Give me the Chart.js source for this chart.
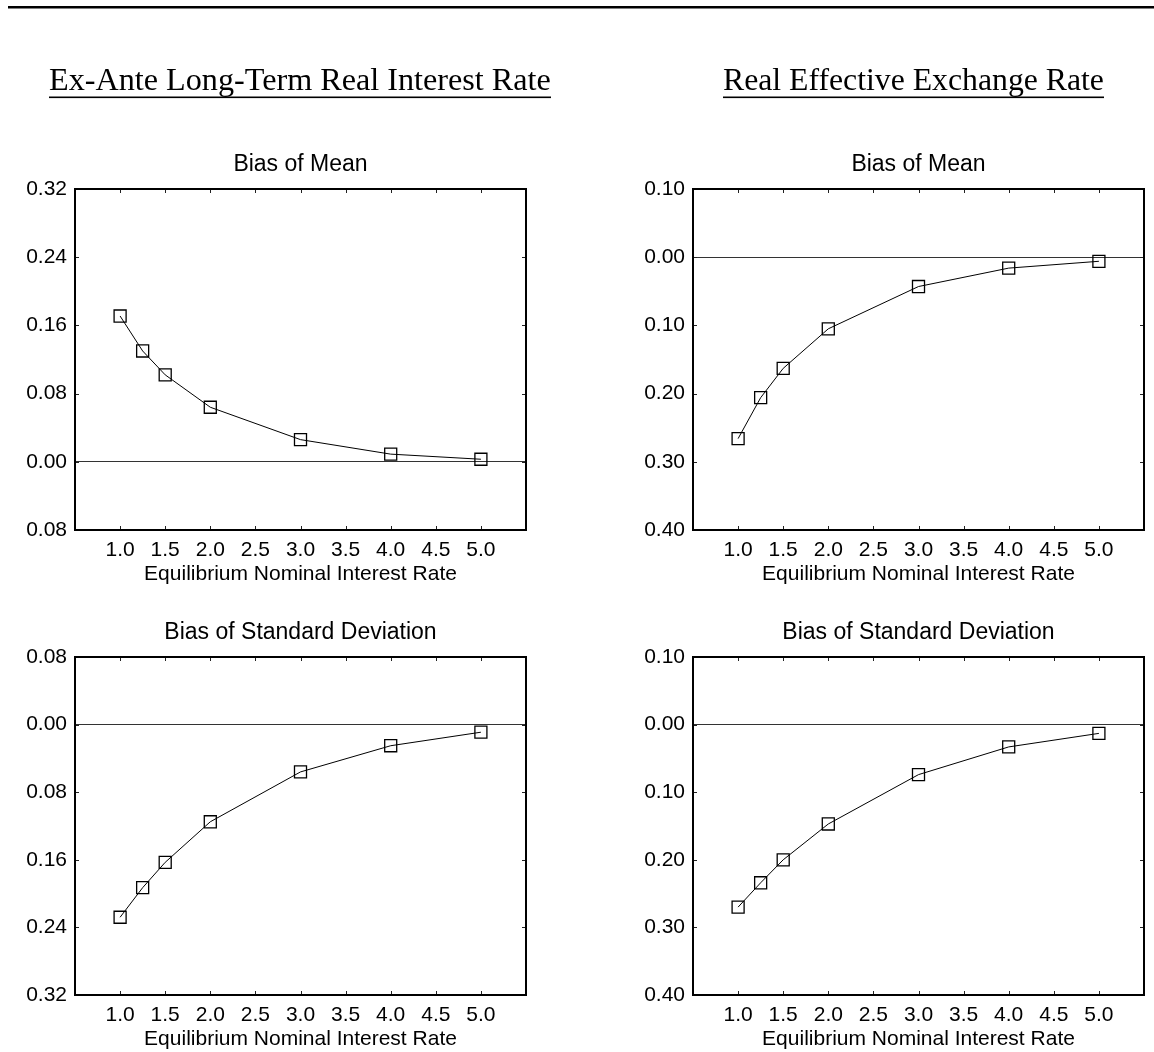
<!DOCTYPE html>
<html>
<head>
<meta charset="utf-8">
<script src="https://cdn.jsdelivr.net/npm/chart.js@4.4.0/dist/chart.umd.min.js"></script>
<style>
  body { margin: 0; background: #fff; }
  #page { position: relative; width: 1154px; height: 1052px; overflow: hidden; }
  #heads { position: absolute; left: 0; top: 0; }
  .panel { position: absolute; }
</style>
</head>
<body>
<div id="page">
  <canvas id="heads" width="1154" height="120"></canvas>
  <div class="panel" id="p1"><canvas id="c1"></canvas></div>
  <div class="panel" id="p2"><canvas id="c2"></canvas></div>
  <div class="panel" id="p3"><canvas id="c3"></canvas></div>
  <div class="panel" id="p4"><canvas id="c4"></canvas></div>
</div>
<script>
// equilibrium nominal interest rate (x)
const rateX = [1.0, 1.25, 1.5, 2.0, 3.0, 4.0, 5.0];
const xTicks = [1.0, 1.5, 2.0, 2.5, 3.0, 3.5, 4.0, 4.5, 5.0];

// bias values (negative = below the zero line)
const interestMeanBias = [0.171, 0.130, 0.102, 0.064, 0.026, 0.009, 0.003];
const exchangeMeanBias = [-0.266, -0.206, -0.163, -0.105, -0.043, -0.016, -0.006];
const interestStdBias = [-0.228, -0.193, -0.163, -0.115, -0.056, -0.025, -0.009];
const exchangeStdBias = [-0.270, -0.234, -0.200, -0.147, -0.074, -0.033, -0.013];

const interestTicks = [-0.08, 0.00, 0.08, 0.16, 0.24, 0.32];
const interestStdTicks = [-0.32, -0.24, -0.16, -0.08, 0.00, 0.08];
const exchangeTicks = [-0.40, -0.30, -0.20, -0.10, 0.00, 0.10];

const sans = '"Liberation Sans", Arial, Helvetica, sans-serif';

// headers + top rule
(function () {
  const ctx = document.getElementById('heads').getContext('2d');
  ctx.fillStyle = '#000';
  ctx.fillRect(8, 6, 1146, 2.5);
  const heads = [
    ['Ex-Ante Long-Term Real Interest Rate', 49, 502],
    ['Real Effective Exchange Rate', 723, 381]
  ];
  heads.forEach(([txt, x, w]) => {
    ctx.font = '100px "Liberation Serif", "Times New Roman", serif';
    const fs = 100 * w / ctx.measureText(txt).width;
    ctx.font = fs + 'px "Liberation Serif", "Times New Roman", serif';
    ctx.textBaseline = 'alphabetic';
    ctx.fillText(txt, x, 90);
    ctx.fillRect(x, 96.5, w, 1.6);
  });
})();

// box, inward ticks and centred title
const framePlugin = {
  id: 'frame',
  afterDraw(chart, args, opts) {
    const { ctx, chartArea: a } = chart;
    const xs = chart.scales.x, ys = chart.scales.y;
    ctx.save();
    ctx.strokeStyle = '#222';
    ctx.lineWidth = 1;
    ctx.beginPath();
    xs.ticks.forEach(t => {
      const px = Math.round(xs.getPixelForValue(t.value)) + 0.5;
      ctx.moveTo(px, a.top); ctx.lineTo(px, a.top + 4);
      ctx.moveTo(px, a.bottom); ctx.lineTo(px, a.bottom - 4);
    });
    ys.ticks.forEach(t => {
      const py = Math.round(ys.getPixelForValue(t.value)) + 0.5;
      ctx.moveTo(a.left, py); ctx.lineTo(a.left + 4, py);
      ctx.moveTo(a.right, py); ctx.lineTo(a.right - 4, py);
    });
    ctx.stroke();
    ctx.strokeStyle = '#000';
    ctx.lineWidth = 2;
    ctx.strokeRect(a.left, a.top, a.right - a.left, a.bottom - a.top);
    ctx.fillStyle = '#000';
    ctx.font = '23px ' + sans;
    ctx.textAlign = 'center';
    ctx.textBaseline = 'middle';
    ctx.fillText(opts.text, (a.left + a.right) / 2, a.top - 24);
    ctx.restore();
  }
};

function makePanel(id, canvasId, boxL, boxT, boxH, title, values, yTicks) {
  const el = document.getElementById(id);
  const W = 75 + 451 + 12, H = 60 + boxH + 60;
  el.style.left = (boxL - 75) + 'px';
  el.style.top = (boxT - 60) + 'px';
  el.style.width = W + 'px';
  el.style.height = H + 'px';

  new Chart(document.getElementById(canvasId), {
    type: 'line',
    data: {
      datasets: [{
        data: rateX.map((x, i) => ({ x: x, y: values[i] })),
        borderColor: '#000',
        borderWidth: 1,
        tension: 0,
        pointStyle: 'rect',
        pointRadius: 8.5,
        pointBorderWidth: 1.3,
        pointBorderColor: '#000',
        pointBackgroundColor: 'rgba(0,0,0,0)'
      }]
    },
    options: {
      responsive: true,
      maintainAspectRatio: false,
      animation: false,
      layout: { padding: { top: 60, left: 0, right: 12, bottom: 0 } },
      plugins: {
        legend: { display: false },
        tooltip: { enabled: false },
        frame: { text: title }
      },
      scales: {
        x: {
          type: 'linear',
          min: 0.5,
          max: 5.5,
          afterBuildTicks: s => { s.ticks = xTicks.map(v => ({ value: v })); },
          afterFit: s => { s.height = 60; },
          grid: { display: false, drawTicks: false },
          border: { display: false },
          ticks: {
            padding: 8,
            color: '#000',
            font: { family: sans, size: 21 },
            maxRotation: 0,
            autoSkip: false,
            callback: v => v.toFixed(1)
          },
          title: {
            display: true,
            text: 'Equilibrium Nominal Interest Rate',
            color: '#000',
            font: { family: sans, size: 21 },
            padding: { top: 0, bottom: 3 }
          }
        },
        y: {
          type: 'linear',
          min: yTicks[0],
          max: yTicks[yTicks.length - 1],
          afterBuildTicks: s => { s.ticks = yTicks.map(v => ({ value: v })); },
          afterFit: s => { s.width = 75; },
          grid: {
            drawTicks: false,
            lineWidth: 1,
            color: c => Math.abs(c.tick.value) < 1e-9 ? '#333' : 'rgba(0,0,0,0)'
          },
          border: { display: false },
          ticks: {
            padding: 8,
            color: '#000',
            font: { family: sans, size: 21 },
            autoSkip: false,
            callback: v => Math.abs(v).toFixed(2)
          }
        }
      }
    },
    plugins: [framePlugin]
  });
}

makePanel('p1', 'c1', 75, 189, 341, 'Bias of Mean', interestMeanBias, interestTicks);
makePanel('p2', 'c2', 693, 189, 341, 'Bias of Mean', exchangeMeanBias, exchangeTicks);
makePanel('p3', 'c3', 75, 657, 338, 'Bias of Standard Deviation', interestStdBias, interestStdTicks);
makePanel('p4', 'c4', 693, 657, 338, 'Bias of Standard Deviation', exchangeStdBias, exchangeTicks);
</script>
</body>
</html>
